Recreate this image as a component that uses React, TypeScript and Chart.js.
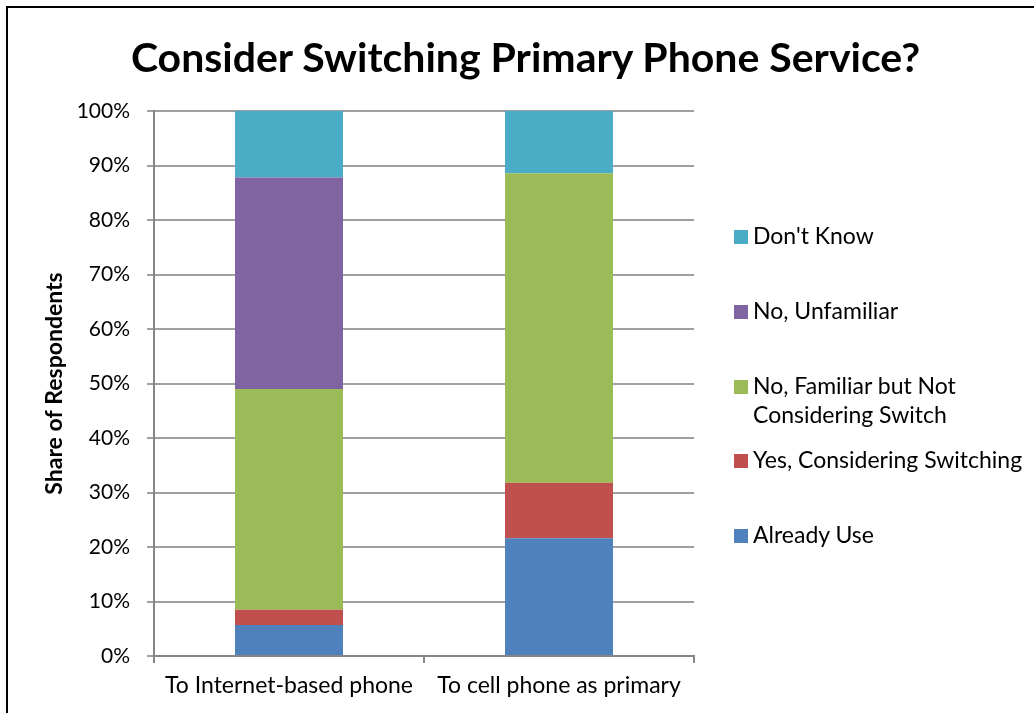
import React, { useEffect, useRef } from "react";
import { Chart, registerables } from "chart.js";

Chart.register(...registerables);

const chartTitle = "Consider Switching Primary Phone Service?";
const yAxisTitle = "Share of Respondents";
const categories = ["To Internet-based phone", "To cell phone as primary"];
const alreadyUse = [5.7, 21.6];
const yesConsidering = [2.8, 10.2];
const familiarNotConsidering = [40.5, 56.8];
const unfamiliar = [38.8, 0];
const dontKnow = [12.2, 11.4];
const seriesNames = [
  "Already Use",
  "Yes, Considering Switching",
  "No, Familiar but Not\nConsidering Switch",
  "No, Unfamiliar",
  "Don't Know",
];
const seriesColors = ["#4F81BD", "#C0504D", "#9BBB59", "#8064A2", "#4BACC6"];
const yTickValues = [0, 10, 20, 30, 40, 50, 60, 70, 80, 90, 100];

const FONT = "Lato, 'Open Sans', sans-serif";

export default function App() {
  const ref = useRef<HTMLCanvasElement | null>(null);

  useEffect(() => {
    if (!ref.current) return;
    const seriesValues = [alreadyUse, yesConsidering, familiarNotConsidering, unfamiliar, dontKnow];
    const chart = new Chart(ref.current, {
      type: "bar",
      data: {
        labels: categories,
        datasets: seriesValues.map((vals, i) => ({
          label: seriesNames[i].replace("\n", " "),
          data: vals,
          backgroundColor: seriesColors[i],
          borderWidth: 0,
          categoryPercentage: 1,
          barPercentage: 0.4,
        })),
      },
      options: {
        responsive: false,
        animation: false,
        layout: { padding: { top: 111, right: 340, bottom: 0, left: 0 } },
        plugins: {
          legend: { display: false },
          title: { display: false },
          tooltip: { enabled: false },
        },
        scales: {
          x: {
            stacked: true,
            grid: {
              drawOnChartArea: false,
              drawTicks: true,
              tickLength: 7,
              color: "#868686",
              lineWidth: 2,
            },
            border: { color: "#868686", width: 2 },
            ticks: {
              color: "#000",
              padding: 9,
              font: { family: FONT, size: 23 },
              maxRotation: 0,
            },
            afterFit: (s: any) => {
              s.height = 57;
            },
          },
          y: {
            stacked: true,
            min: 0,
            max: 100,
            afterBuildTicks: (s: any) => {
              s.ticks = yTickValues.map((v) => ({ value: v }));
            },
            grid: {
              color: "#A0A0A0",
              lineWidth: 2,
              tickLength: 7,
            },
            border: { color: "#868686", width: 2 },
            ticks: {
              color: "#000",
              padding: 17,
              font: { family: FONT, size: 21 },
              callback: (v: any) => v + "%",
            },
            title: {
              display: true,
              text: yAxisTitle,
              color: "#000",
              font: { family: FONT, size: 23, weight: "bold" },
              padding: { top: 41, bottom: 0 },
            },
            afterFit: (s: any) => {
              s.width = 154;
            },
          },
        },
      },
    });
    return () => chart.destroy();
  }, []);

  const legendOrder = [4, 3, 2, 1, 0];

  return (
    <div style={{ position: "fixed", left: 0, top: 0, width: 1034, height: 713, overflow: "hidden", background: "#fff" }}>
      <div
        style={{
          position: "absolute",
          left: 6,
          top: 6,
          width: 1100,
          height: 800,
          border: "2px solid #000",
          boxSizing: "border-box",
        }}
      />
      <canvas ref={ref} width={1034} height={713} style={{ position: "absolute", left: 0, top: 0 }} />
      <div
        style={{
          position: "absolute",
          left: 0,
          width: 1051,
          top: 27,
          textAlign: "center",
          fontFamily: FONT,
          fontWeight: "bold",
          fontSize: 41,
          lineHeight: "60px",
          color: "#000",
          whiteSpace: "nowrap",
        }}
      >
        {chartTitle}
      </div>
      <div style={{ position: "absolute", left: 734, top: 221, fontFamily: FONT, fontSize: 23, color: "#000" }}>
        {legendOrder.map((idx, i) => (
          <div key={idx} style={{ position: "absolute", left: 0, top: i * 74.8, whiteSpace: "pre", lineHeight: "29px" }}>
            <span
              style={{
                position: "absolute",
                left: 0,
                top: 9,
                width: 14,
                height: 14,
                background: seriesColors[idx],
              }}
            />
            <span style={{ position: "absolute", left: 19, top: 0 }}>{seriesNames[idx]}</span>
          </div>
        ))}
      </div>
    </div>
  );
}
